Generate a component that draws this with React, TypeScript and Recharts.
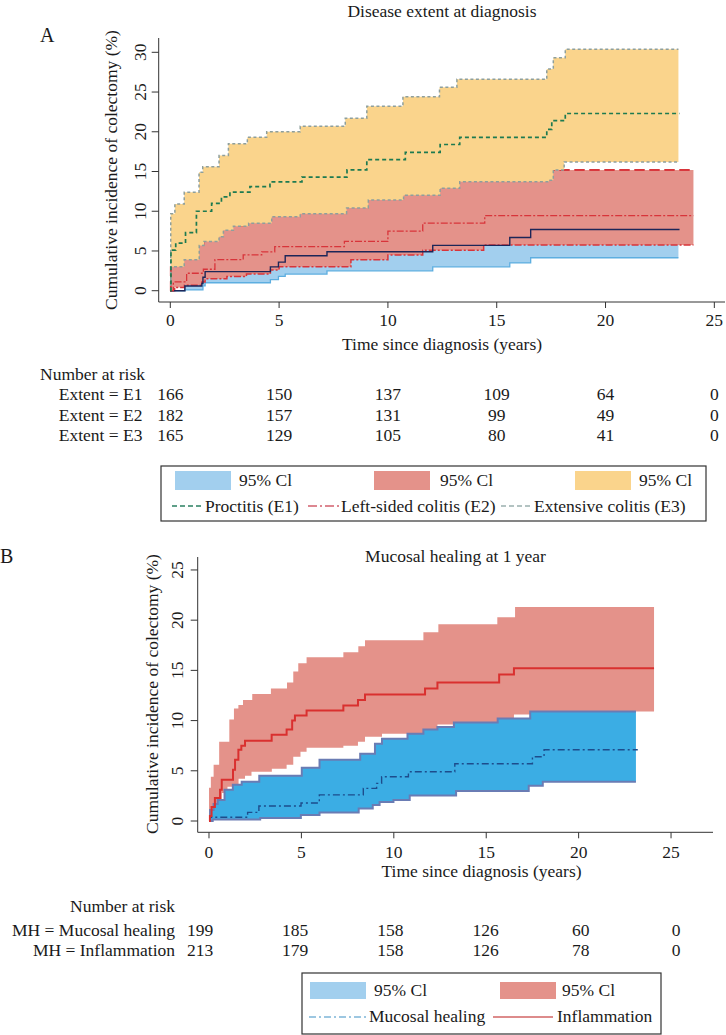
import React from 'react';
import { ComposedChart, Area, Line, XAxis, YAxis } from 'recharts';

type Pt = [number, number];

// ---------------- Panel A: Disease extent at diagnosis ----------------
// [time (years), cumulative incidence (%)] step points
const A_BLUE_LOWER: Pt[] = [[0, 0], [0.67, 0.1], [1.5, 0.6], [1.6, 1.0], [4.6, 1.4], [4.97, 1.8], [5.28, 2.1], [7.2, 2.5], [12.06, 3.0], [15.6, 3.5], [16.56, 4.15]];
const A_BLUE_UPPER: Pt[] = [[0, 0], [0.67, 2.0], [1.5, 3.5], [1.6, 4.5], [4.6, 5.0], [4.97, 5.8], [5.28, 7.0], [7.2, 7.8], [12.06, 8.8], [15.6, 10.0], [16.56, 11.3]];
const A_NAVY: Pt[] = [[0, 0], [0.67, 0.6], [1.45, 0.9], [1.5, 1.7], [1.6, 2.4], [4.6, 3.0], [4.97, 3.6], [5.28, 4.4], [7.2, 4.9], [12.06, 5.7], [15.6, 6.7], [16.56, 7.7]];
const A_BLUE_END = 23.35;
const A_NAVY_END = 23.4;

const A_RED_LOWER: Pt[] = [[0, 0], [0.2, 0.4], [0.65, 0.7], [1.45, 1.1], [1.6, 1.5], [2.6, 1.8], [3.5, 2.1], [4.6, 2.6], [5.0, 3.0], [8.3, 3.9], [10.0, 4.5], [11.6, 5.1], [14.4, 5.75]];
const A_RED_UPPER: Pt[] = [[0, 0], [0.02, 3.5], [0.14, 4.2], [0.75, 5.9], [1.52, 6.5], [2.05, 8.2], [3.35, 8.8], [4.2, 9.4], [4.8, 10.0], [8.0, 11.0], [9.0, 11.8], [10.0, 12.5], [11.6, 13.3], [13.2, 14.0], [14.45, 14.5], [17.5, 15.2]];
const A_RED_MID: Pt[] = [[0, 0], [0.14, 1.1], [0.75, 2.2], [1.52, 2.7], [2.05, 3.9], [3.35, 4.5], [4.2, 4.9], [4.8, 5.55], [8.0, 6.2], [10.0, 7.5], [11.6, 8.5], [14.45, 9.45]];
const A_RED_END = 24.04;

const A_YELLOW_LOWER: Pt[] = [[0, 0], [0.02, 3.0], [0.64, 3.9], [1.33, 5.7], [1.55, 6.2], [2.24, 6.8], [2.44, 7.6], [2.9, 8.1], [3.6, 8.5], [4.66, 9.3], [5.97, 9.7], [8.1, 10.4], [9.1, 11.4], [10.72, 12.0], [12.4, 12.9], [13.3, 13.7], [17.4, 13.9], [17.6, 15.2], [18.1, 16.2]];
const A_YELLOW_UPPER: Pt[] = [[0, 0], [0.02, 9.7], [0.21, 10.9], [0.64, 12.4], [1.32, 14.9], [1.49, 15.6], [2.24, 17.0], [2.67, 18.5], [3.54, 19.3], [4.43, 20.0], [5.97, 20.7], [8.04, 21.7], [9.03, 23.2], [10.69, 24.4], [12.37, 25.6], [13.17, 26.6], [17.3, 27.9], [17.6, 29.3], [18.15, 30.4]];
const A_GREEN: Pt[] = [[0, 0], [0.03, 5.1], [0.25, 6.0], [0.7, 7.3], [1.2, 10.0], [1.9, 11.0], [2.35, 11.8], [2.74, 12.4], [3.66, 13.1], [4.58, 13.7], [6.05, 14.3], [8.12, 15.2], [9.03, 16.5], [10.8, 17.4], [12.4, 18.4], [13.3, 19.3], [17.3, 20.3], [17.53, 21.4], [18.15, 22.3]];
const A_YELLOW_END = 23.35;
const A_GREEN_END = 23.4;

// ---------------- Panel B: Mucosal healing at 1 year ----------------
const B_RED_LOWER: Pt[] = [[0, 0], [0.05, 0.5], [0.2, 1.2], [0.45, 2.0], [0.7, 2.8], [1.0, 3.4], [1.6, 4.2], [1.95, 4.5], [2.3, 4.9], [3.4, 5.2], [4.2, 5.6], [4.56, 6.4], [4.95, 6.9], [5.28, 7.3], [7.27, 7.5], [8.06, 7.9], [8.44, 8.4], [9.36, 8.7], [11.69, 9.05], [12.36, 9.6], [13.2, 9.8], [15.7, 10.2], [16.5, 10.6], [17.38, 10.9]];
const B_RED_UPPER: Pt[] = [[0, 3.3], [0.1, 4.4], [0.25, 5.6], [0.55, 7.9], [1.1, 10.1], [1.35, 11.2], [1.59, 11.55], [1.84, 12.05], [2.34, 12.65], [3.35, 13.2], [4.22, 13.8], [4.56, 14.9], [4.83, 15.7], [5.28, 16.3], [7.27, 16.8], [8.08, 17.4], [8.44, 18.0], [11.6, 18.8], [12.41, 19.6], [15.6, 20.3], [16.56, 21.3]];
const B_RED_MID: Pt[] = [[0, 0], [0.05, 0.5], [0.14, 1.4], [0.32, 2.3], [0.6, 3.1], [0.69, 4.1], [1.3, 5.1], [1.41, 6.1], [1.59, 7.1], [1.75, 7.5], [1.95, 8.0], [3.39, 8.6], [4.2, 9.1], [4.5, 10.0], [4.65, 10.5], [5.28, 11.0], [7.27, 11.5], [8.06, 12.05], [8.44, 12.6], [11.69, 13.2], [12.36, 13.8], [15.7, 14.6], [16.5, 15.2]];
const B_RED_END = 24.08;

const B_BLUE_LOWER: Pt[] = [[0, 0], [0.2, 0.15], [2.77, 0.3], [4.97, 0.6], [5.98, 0.85], [8.1, 1.25], [8.86, 1.6], [9.23, 1.9], [9.98, 2.1], [10.86, 2.55], [13.37, 3.0], [17.3, 3.5], [18.06, 3.9]];
const B_BLUE_UPPER: Pt[] = [[0, 0], [0.06, 1.1], [0.25, 1.7], [0.47, 2.1], [0.84, 3.1], [1.29, 3.6], [1.77, 3.9], [2.72, 4.5], [5.02, 5.3], [5.98, 6.1], [8.18, 6.7], [8.98, 7.7], [9.36, 8.2], [10.74, 8.7], [11.6, 9.1], [12.36, 9.35], [13.25, 9.8], [15.62, 10.2], [17.38, 10.9]];
const B_BLUE_MID: Pt[] = [[0, 0], [0.06, 0.37], [2.09, 0.86], [2.7, 1.5], [4.98, 1.8], [5.97, 2.6], [8.35, 3.25], [9.07, 3.75], [9.34, 4.4], [10.79, 4.9], [13.3, 5.7], [17.5, 6.4], [18.13, 7.1]];
const B_BLUE_END = 23.1;
const B_BLUE_MID_END = 23.2;

// ---------------- Axes & risk tables ----------------
const X_TICKS = [0, 5, 10, 15, 20, 25];
const A_Y_TICKS = [0, 5, 10, 15, 20, 25, 30];
const B_Y_TICKS = [0, 5, 10, 15, 20, 25];

const RISK_TIMES = [0, 5, 10, 15, 20, 25];
const RISK_A_LABELS = ['Extent = E1', 'Extent = E2', 'Extent = E3'];
const RISK_A_E1 = [166, 150, 137, 109, 64, 0];
const RISK_A_E2 = [182, 157, 131, 99, 49, 0];
const RISK_A_E3 = [165, 129, 105, 80, 41, 0];
const RISK_B_LABELS = ['MH = Mucosal healing', 'MH = Inflammation'];
const RISK_B_MH = [199, 185, 158, 126, 60, 0];
const RISK_B_INF = [213, 179, 158, 126, 78, 0];

// ---------------- helpers ----------------
function valueAt(s: Pt[], t: number): number {
  let v = s[0][1];
  for (const [ti, vi] of s) {
    if (ti <= t + 1e-9) v = vi;
    else break;
  }
  return v;
}
function bandRows(lower: Pt[], upper: Pt[], end: number) {
  const ts = Array.from(new Set([...lower.map((p) => p[0]), ...upper.map((p) => p[0]), end]))
    .filter((t) => t <= end)
    .sort((a, b) => a - b);
  return ts.map((t) => ({ t, range: [valueAt(lower, t), valueAt(upper, t)] }));
}
function lineRows(s: Pt[], end: number) {
  return [...s.map(([t, v]) => ({ t, v })), { t: end, v: s[s.length - 1][1] }];
}
function edgeRows(s: Pt[], end: number) {
  return lineRows(s, end).map((r) => ({ t: r.t, range: [r.v, r.v] }));
}

// ---------------- layout ----------------
const W = 726;
const H = 1035;
const FONT = "'Liberation Serif', 'Times New Roman', serif";
const FS = 17.5;
const YW = 40;
const XH = 30;
const AXIS = '#333';

const PA = { left: 158.7, right: 725, top: 38, bottom: 302, xMin: -0.533, xMax: 25.49, yMin: -1.42, yMax: 31.8 };
const PB = { left: 197.7, right: 713, top: 557, bottom: 832.3, xMin: -0.611, xMax: 27.27, yMin: -1.125, yMax: 26.29 };

const xPos = (p: typeof PA, t: number) => p.left + ((t - p.xMin) / (p.xMax - p.xMin)) * (p.right - p.left);
// risk table of panel B is laid out on its own (slightly wider) scale in the reference
const riskBPos = (t: number) => 200 + (t / 25) * 476;

const makeXTick = (baseline: number) => (props: any) => (
  <text x={props.x} y={baseline} textAnchor="middle" fontFamily={FONT} fontSize={FS} fill="#1a1a1a">
    {props.payload.value}
  </text>
);
const makeYTick = (baseX: number) => (props: any) => (
  <text
    x={baseX}
    y={props.y}
    transform={`rotate(-90 ${baseX} ${props.y})`}
    textAnchor="middle"
    fontFamily={FONT}
    fontSize={FS}
    fill="#1a1a1a"
  >
    {props.payload.value}
  </text>
);

const aBlue = bandRows(A_BLUE_LOWER, A_BLUE_UPPER, A_BLUE_END);
const aRed = bandRows(A_RED_LOWER, A_RED_UPPER, A_RED_END);
const aRedUpperEdge = edgeRows(A_RED_UPPER, A_RED_END);
const aYellow = bandRows(A_YELLOW_LOWER, A_YELLOW_UPPER, A_YELLOW_END);
const aNavy = lineRows(A_NAVY, A_NAVY_END);
const aRedMid = lineRows(A_RED_MID, A_RED_END);
const aRedLow = lineRows(A_RED_LOWER, A_RED_END);
const aGreen = lineRows(A_GREEN, A_GREEN_END);

const bRed = bandRows(B_RED_LOWER, B_RED_UPPER, B_RED_END);
const bBlue = bandRows(B_BLUE_LOWER, B_BLUE_UPPER, B_BLUE_END);
const bRedMid = lineRows(B_RED_MID, B_RED_END);
const bBlueMid = lineRows(B_BLUE_MID, B_BLUE_MID_END);

const C = {
  yellow: '#FAD48C',
  red: '#E4928A',
  blueA: '#A2CFEE',
  blueAEdge: '#5DAEE0',
  blueB: '#3BADE4',
  blueBEdge: '#6A7CB4',
  yellowEdge: '#8E9F9C',
  green: '#1D7A50',
  redLine: '#D8343A',
  navy: '#1C2658',
  blueMidB: '#1D4C8C',
  redB: '#D9302F',
};

function ChartA() {
  return (
    <ComposedChart
      width={W}
      height={H}
      margin={{ top: PA.top, left: PA.left - YW, right: W - PA.right, bottom: H - PA.bottom - XH }}
    >
      <XAxis
        type="number"
        dataKey="t"
        domain={[PA.xMin, PA.xMax]}
        allowDataOverflow
        ticks={X_TICKS}
        interval={0}
        tickSize={6}
        height={XH}
        stroke={AXIS}
        tick={makeXTick(326)}
      />
      <YAxis
        type="number"
        domain={[PA.yMin, PA.yMax]}
        allowDataOverflow
        ticks={A_Y_TICKS}
        interval={0}
        tickSize={7}
        width={YW}
        stroke={AXIS}
        tick={makeYTick(146)}
      />
      <Area data={aBlue} dataKey="range" type="stepAfter" fill={C.blueA} fillOpacity={1} stroke={C.blueAEdge} strokeWidth={1.3} dot={false} activeDot={false} isAnimationActive={false} />
      <Area data={aRed} dataKey="range" type="stepAfter" fill={C.red} fillOpacity={1} stroke="none" dot={false} activeDot={false} isAnimationActive={false} />
      <Area data={aRedUpperEdge} dataKey="range" type="stepAfter" fill="none" stroke={C.redLine} strokeWidth={1.6} strokeDasharray="10 5" dot={false} activeDot={false} isAnimationActive={false} />
      <Line data={aRedLow} dataKey="v" type="stepAfter" stroke={C.redLine} strokeWidth={1.5} strokeDasharray="7 2 2 2" dot={false} activeDot={false} isAnimationActive={false} />
      <Area data={aYellow} dataKey="range" type="stepAfter" fill={C.yellow} fillOpacity={1} stroke={C.yellowEdge} strokeWidth={1.5} strokeDasharray="3 2.5" dot={false} activeDot={false} isAnimationActive={false} />
      <Line data={aNavy} dataKey="v" type="stepAfter" stroke={C.navy} strokeWidth={1.4} dot={false} activeDot={false} isAnimationActive={false} />
      <Line data={aRedMid} dataKey="v" type="stepAfter" stroke={C.redLine} strokeWidth={1.3} strokeDasharray="7 2 2 2" dot={false} activeDot={false} isAnimationActive={false} />
      <Line data={aGreen} dataKey="v" type="stepAfter" stroke={C.green} strokeWidth={1.7} strokeDasharray="4 3" dot={false} activeDot={false} isAnimationActive={false} />
    </ComposedChart>
  );
}

function ChartB() {
  return (
    <ComposedChart
      width={W}
      height={H}
      margin={{ top: PB.top, left: PB.left - YW, right: W - PB.right, bottom: H - PB.bottom - XH }}
    >
      <XAxis
        type="number"
        dataKey="t"
        domain={[PB.xMin, PB.xMax]}
        allowDataOverflow
        ticks={X_TICKS}
        interval={0}
        tickSize={6}
        height={XH}
        stroke={AXIS}
        tick={makeXTick(857.5)}
      />
      <YAxis
        type="number"
        domain={[PB.yMin, PB.yMax]}
        allowDataOverflow
        ticks={B_Y_TICKS}
        interval={0}
        tickSize={7}
        width={YW}
        stroke={AXIS}
        tick={makeYTick(183)}
      />
      <Area data={bRed} dataKey="range" type="stepAfter" fill={C.red} fillOpacity={1} stroke="none" dot={false} activeDot={false} isAnimationActive={false} />
      <Area data={bBlue} dataKey="range" type="stepAfter" fill={C.blueB} fillOpacity={1} stroke={C.blueBEdge} strokeWidth={2} dot={false} activeDot={false} isAnimationActive={false} />
      <Line data={bBlueMid} dataKey="v" type="stepAfter" stroke={C.blueMidB} strokeWidth={1.4} strokeDasharray="7 3 2 3" dot={false} activeDot={false} isAnimationActive={false} />
      <Line data={bRedMid} dataKey="v" type="stepAfter" stroke={C.redB} strokeWidth={2} dot={false} activeDot={false} isAnimationActive={false} />
    </ComposedChart>
  );
}

function Overlay() {
  const txt = { fontFamily: FONT, fontSize: FS, fill: '#1a1a1a' } as const;
  const rowsA = [RISK_A_E1, RISK_A_E2, RISK_A_E3];
  const rowsAY = [400, 421, 441];
  const rowsB = [RISK_B_MH, RISK_B_INF];
  const rowsBY = [936, 956];
  return (
    <svg width={W} height={H} style={{ position: 'absolute', left: 0, top: 0, pointerEvents: 'none' }}>
      {/* Panel A texts */}
      <text x={40} y={41.7} fontFamily={FONT} fontSize={20} fill="#1a1a1a">A</text>
      <text x={442} y={16.5} textAnchor="middle" {...txt}>Disease extent at diagnosis</text>
      <text x={117} y={170} transform="rotate(-90 117 170)" textAnchor="middle" {...txt}>
        Cumulative incidence of colectomy (%)
      </text>
      <text x={442} y={350} textAnchor="middle" {...txt}>Time since diagnosis (years)</text>
      <text x={40} y={380} {...txt}>Number at risk</text>
      {RISK_A_LABELS.map((l, i) => (
        <text key={l} x={142.5} y={rowsAY[i]} textAnchor="end" {...txt}>{l}</text>
      ))}
      {rowsA.map((row, i) =>
        row.map((n, j) => (
          <text key={`a${i}-${j}`} x={xPos(PA, RISK_TIMES[j])} y={rowsAY[i]} textAnchor="middle" {...txt}>{n}</text>
        ))
      )}
      {/* Legend A */}
      <rect x={161} y={466} width={545} height={55} fill="#fff" stroke="#333" strokeWidth={1.2} />
      <rect x={175} y={471} width={56} height={19} fill={C.blueA} />
      <text x={239} y={486} {...txt}>95% Cl</text>
      <rect x={374} y={471} width={56} height={19} fill={C.red} />
      <text x={440} y={486} {...txt}>95% Cl</text>
      <rect x={575} y={471} width={56} height={19} fill={C.yellow} />
      <text x={639} y={486} {...txt}>95% Cl</text>
      <line x1={172} y1={506} x2={204} y2={506} stroke="#2B8062" strokeWidth={1.5} strokeDasharray="5 3" />
      <text x={205} y={511.5} {...txt}>Proctitis (E1)</text>
      <line x1={308} y1={506} x2={340} y2={506} stroke="#D2606E" strokeWidth={1.5} strokeDasharray="9 3 2 3" />
      <text x={341} y={511.5} {...txt}>Left-sided colitis (E2)</text>
      <line x1={501} y1={506} x2={532} y2={506} stroke="#9AB0AE" strokeWidth={1.5} strokeDasharray="5 3" />
      <text x={534} y={511.5} {...txt}>Extensive colitis (E3)</text>

      {/* Panel B texts */}
      <text x={0} y={563} fontFamily={FONT} fontSize={20} fill="#1a1a1a">B</text>
      <text x={455.5} y={562} textAnchor="middle" {...txt}>Mucosal healing at 1 year</text>
      <text x={158} y={694} transform="rotate(-90 158 694)" textAnchor="middle" {...txt}>
        Cumulative incidence of colectomy (%)
      </text>
      <text x={481.5} y={876.5} textAnchor="middle" {...txt}>Time since diagnosis (years)</text>
      <text x={175} y={912} textAnchor="end" {...txt}>Number at risk</text>
      {RISK_B_LABELS.map((l, i) => (
        <text key={l} x={175} y={rowsBY[i]} textAnchor="end" {...txt}>{l}</text>
      ))}
      {rowsB.map((row, i) =>
        row.map((n, j) => (
          <text key={`b${i}-${j}`} x={riskBPos(RISK_TIMES[j])} y={rowsBY[i]} textAnchor="middle" {...txt}>{n}</text>
        ))
      )}
      {/* Legend B */}
      <rect x={302} y={973} width={359} height={61} fill="#fff" stroke="#333" strokeWidth={1.2} />
      <rect x={310} y={982} width={56} height={17} fill={C.blueA} />
      <text x={374} y={995.5} {...txt}>95% Cl</text>
      <rect x={500} y={982} width={56} height={17} fill={C.red} />
      <text x={562} y={995.5} {...txt}>95% Cl</text>
      <line x1={309} y1={1017} x2={366} y2={1017} stroke="#7DB5D8" strokeWidth={1.5} strokeDasharray="7 3 2 3" />
      <text x={369} y={1022} {...txt}>Mucosal healing</text>
      <line x1={493} y1={1017} x2={553} y2={1017} stroke="#D26464" strokeWidth={1.5} />
      <text x={557} y={1022} {...txt}>Inflammation</text>
    </svg>
  );
}

export default function App() {
  return (
    <div style={{ position: 'absolute', left: 0, top: 0, width: W, height: H, background: '#fff', overflow: 'hidden' }}>
      <div style={{ position: 'absolute', left: 0, top: 0 }}>
        <ChartA />
      </div>
      <div style={{ position: 'absolute', left: 0, top: 0 }}>
        <ChartB />
      </div>
      <Overlay />
    </div>
  );
}
